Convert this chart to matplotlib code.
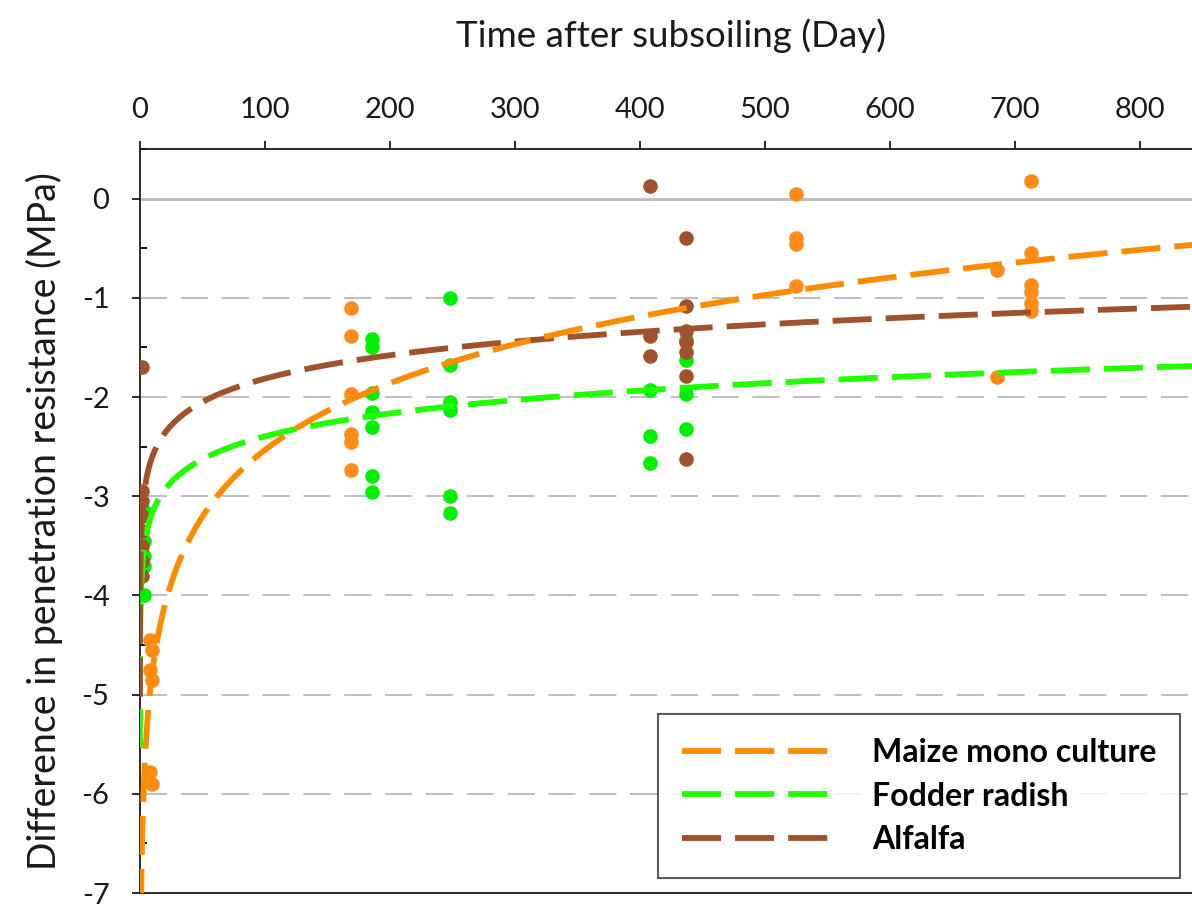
import matplotlib
matplotlib.use('Agg')
import numpy as np
import matplotlib.pyplot as plt
from matplotlib.ticker import MultipleLocator, FuncFormatter

plt.rcParams['font.family'] = ['Lato', 'DejaVu Sans']
plt.rcParams['axes.unicode_minus'] = False

# measured points (day, difference in MPa)
maize_day = [8, 10, 8, 10, 8, 10,
             169, 169, 169, 169, 169, 169,
             525, 525, 525, 525,
             686, 686,
             713, 713, 713, 713, 713, 713]
maize_val = [-4.45, -4.55, -4.75, -4.85, -5.78, -5.9,
             -1.1, -1.38, -1.97, -2.37, -2.45, -2.74,
             0.05, -0.4, -0.46, -0.88,
             -0.72, -1.8,
             0.18, -0.55, -0.87, -0.94, -1.05, -1.13]

radish_day = [3, 3, 3, 3, 3,
              186, 186, 186, 186, 186, 186, 186,
              248, 248, 248, 248, 248, 248,
              408, 408, 408,
              437, 437, 437, 437]
radish_val = [-3.15, -3.45, -3.6, -3.7, -4.0,
              -1.42, -1.5, -1.96, -2.15, -2.3, -2.8, -2.96,
              -1.0, -1.68, -2.05, -2.13, -3.0, -3.17,
              -1.93, -2.39, -2.67,
              -1.43, -1.63, -1.97, -2.32]

alfalfa_day = [2, 2, 2, 2, 2, 2, 2, 2,
               408, 408, 408,
               437, 437, 437, 437, 437, 437, 437]
alfalfa_val = [-1.7, -2.95, -3.05, -3.2, -3.35, -3.5, -3.65, -3.8,
               0.13, -1.38, -1.59,
               -0.4, -1.08, -1.33, -1.45, -1.55, -1.79, -2.62]

# logarithmic trend lines y = a*ln(x) + b
maize_fit = (0.97, -7.0)
radish_fit = (0.333, -3.93)
alfalfa_fit = (0.34, -3.38)
fit_start = 0.008
fit_end = 850

series = [
    ('Maize mono culture', maize_day, maize_val, maize_fit, '#FF8C1A', '#FF8C00'),
    ('Fodder radish', radish_day, radish_val, radish_fit, '#00F000', '#22FF00'),
    ('Alfalfa', alfalfa_day, alfalfa_val, alfalfa_fit, '#A0522D', '#A0522D'),
]

fig = plt.figure(figsize=(11.92, 9.07), dpi=100)
ax = fig.add_axes([0.1174, 0.0154, 0.8914, 0.8203])

ax.set_xlim(0, 850)
ax.set_ylim(-7, 0.5)

# gridlines
ax.axhline(0, color='#BFBFBF', lw=2.2, zorder=1)
for g in range(-6, 0):
    ax.axhline(g, color='#BFBFBF', lw=1.4, ls=(0, (14, 7)), zorder=1)

for name, d, v, fit, pcol, lcol in series:
    ax.plot(d, v, 'o', color=pcol, ms=10.5, mec='none', zorder=3)

xs = np.logspace(np.log10(fit_start), np.log10(fit_end), 800)
handles = []
for name, d, v, fit, pcol, lcol in [series[1], series[2], series[0]]:
    ln, = ax.plot(xs, fit[0] * np.log(xs) + fit[1], color=lcol, lw=4.2,
                  ls=(0, (6.7, 2.4)), zorder=4, label=name)
    handles.append(ln)
handles = [handles[2], handles[0], handles[1]]

ax.xaxis.tick_top()
ax.xaxis.set_label_position('top')
ax.xaxis.set_major_locator(MultipleLocator(100))
ax.yaxis.set_major_locator(MultipleLocator(1))
ax.yaxis.set_minor_locator(MultipleLocator(0.5))
ax.yaxis.set_major_formatter(FuncFormatter(lambda v, p: '%d' % v))
ax.tick_params(axis='x', which='major', direction='out', length=6, width=1.3,
               labelsize=21, pad=13, colors='#1a1a1a')
ax.tick_params(axis='y', which='major', direction='out', length=6, width=1.3,
               labelsize=21, pad=16, colors='#1a1a1a')
ax.tick_params(axis='y', which='minor', direction='in', length=5, width=1.3)

for s in ['top', 'left', 'bottom']:
    ax.spines[s].set_linewidth(1.3)
    ax.spines[s].set_color('#1a1a1a')
ax.spines['right'].set_visible(False)

ax.set_xlabel('Time after subsoiling (Day)', fontsize=26.5, labelpad=36, color='#1a1a1a')
ax.set_ylabel('Difference in penetration resistance (MPa)', fontsize=27,
              labelpad=13, color='#1a1a1a')

leg = ax.legend(handles=handles, loc='lower left', bbox_to_anchor=(0.4875, 0.0202),
                frameon=True, fancybox=False,
                prop={'weight': 'bold', 'size': 23},
                handlelength=4.6, handletextpad=1.35, labelspacing=0.45,
                borderpad=0.75, borderaxespad=0)
leg.get_frame().set_edgecolor('#333333')
leg.get_frame().set_linewidth(1.5)
leg.set_zorder(5)

plt.savefig('out.png', dpi=100)
